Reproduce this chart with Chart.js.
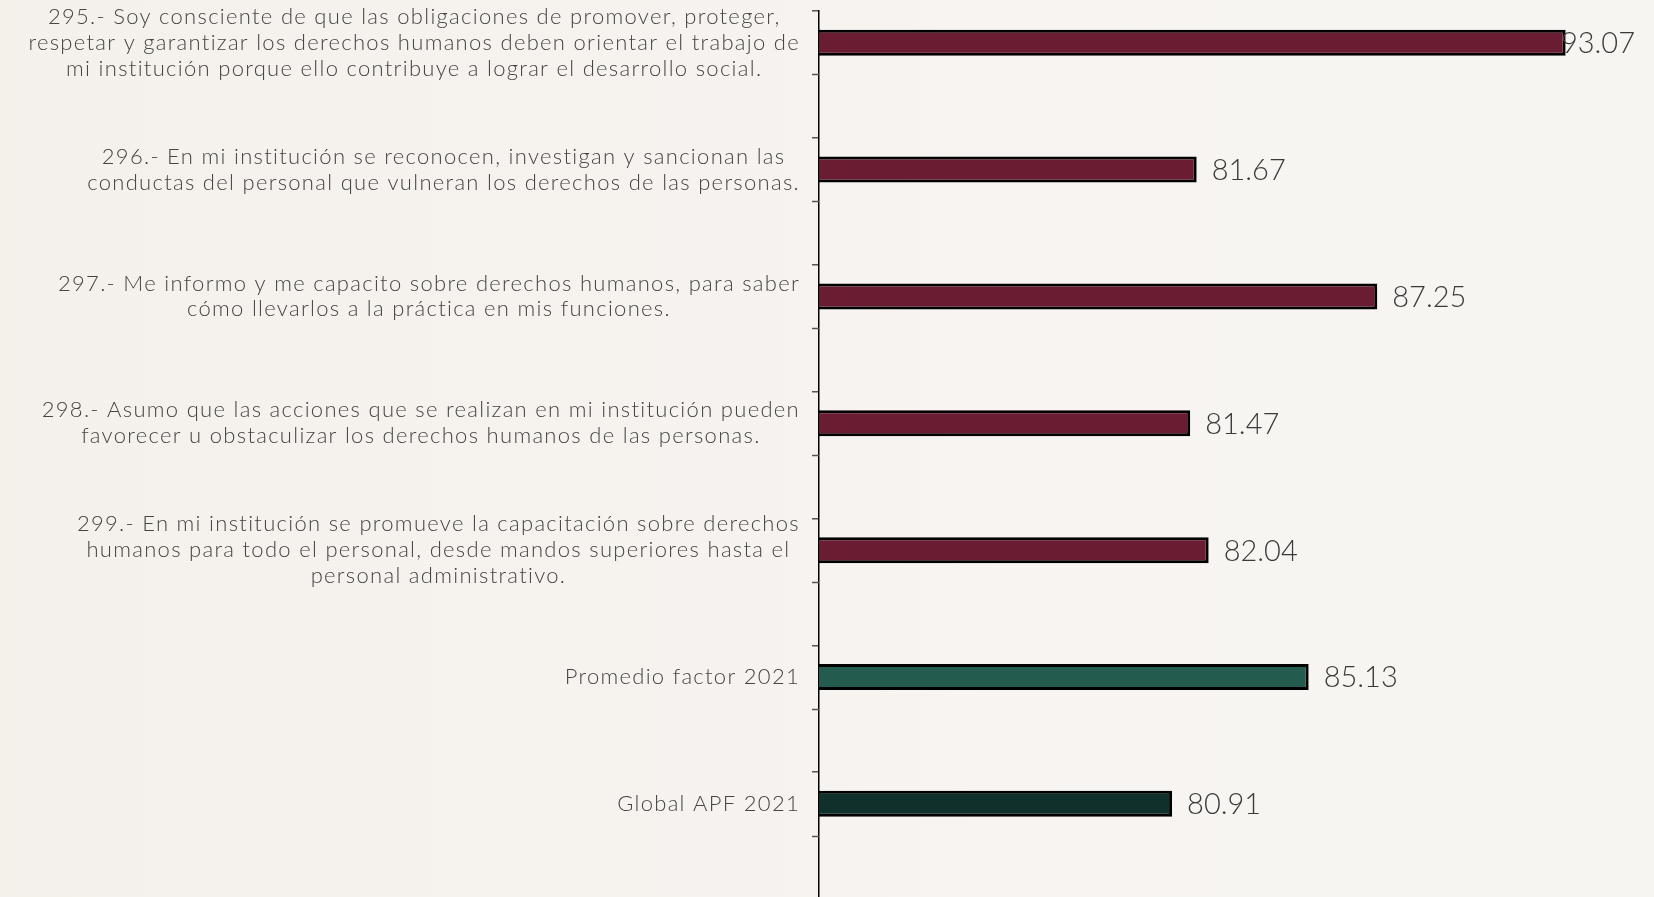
<!DOCTYPE html>
<html>
<head>
<meta charset="utf-8">
<script src="https://cdn.jsdelivr.net/npm/chart.js@4.4.1/dist/chart.umd.min.js"></script>
<style>
  html, body { margin: 0; padding: 0; overflow: hidden; }
  body {
    width: 1654px; height: 897px;
    background: linear-gradient(90deg, #f4f0ea 0%, #f6f2ee 35%, #f7f4f1 60%, #f7f5f2 100%);
  }
  #wrap { position: absolute; left: 0; top: 0; width: 1654px; height: 910px; }
</style>
</head>
<body>
<div id="wrap"><canvas id="mycanvas"></canvas></div>
<script>
// categories (label lines), values and bar colours
var categories = [
	["295.- Soy consciente de que las obligaciones de promover, proteger,",
	 "respetar y garantizar los derechos humanos deben orientar el trabajo de",
	 "mi institución porque ello contribuye a lograr el desarrollo social."],
	["296.- En mi institución se reconocen, investigan y sancionan las",
	 "conductas del personal que vulneran los derechos de las personas."],
	["297.- Me informo y me capacito sobre derechos humanos, para saber",
	 "cómo llevarlos a la práctica en mis funciones."],
	["298.- Asumo que las acciones que se realizan en mi institución pueden",
	 "favorecer u obstaculizar los derechos humanos de las personas."],
	["299.- En mi institución se promueve la capacitación sobre derechos",
	 "humanos para todo el personal, desde mandos superiores hasta el",
	 "personal administrativo."],
	["Promedio factor 2021"],
	["Global APF 2021"]
];
var values = [93.07, 81.67, 87.25, 81.47, 82.04, 85.13, 80.91];
var emptySeries = [null, null, null, null, null, null, null];
var barColors = ["#6a1c32", "#6a1c32", "#6a1c32", "#6a1c32", "#6a1c32", "#235b4e", "#10312b"];

var labelFont = "300 22px Lato";
var valueFont = "300 29px Lato";

// left labels: block right aligned next to axis, lines centred in block
var labelPlugin = {
	id: "sideLabels",
	afterDraw: function(chart) {
		var ctx = chart.ctx;
		var meta = chart.getDatasetMeta(0);
		var right = chart.chartArea.left - 19;
		ctx.save();
		ctx.font = labelFont;
		ctx.letterSpacing = "1.3px";
		ctx.fillStyle = "#454545";
		ctx.textBaseline = "middle";
		ctx.textAlign = "center";
		var lh = 25.8;
		for (var i = 0; i < categories.length; i++) {
			var lines = categories[i];
			var w = 0;
			for (var k = 0; k < lines.length; k++) {
				w = Math.max(w, ctx.measureText(lines[k]).width);
			}
			var cx = right - w / 2;
			var y0 = meta.data[i].y - (lines.length - 1) * lh / 2;
			for (var k = 0; k < lines.length; k++) {
				ctx.fillText(lines[k], cx, y0 + k * lh);
			}
		}
		// half-step ticks at category centres
		var ys = chart.scales.y;
		ctx.strokeStyle = "#555555";
		ctx.lineWidth = 1.5;
		for (var i = 0; i < categories.length; i++) {
			var py = Math.round(ys.getPixelForValue(i)) + 0.5;
			ctx.beginPath();
			ctx.moveTo(chart.chartArea.left - 7, py);
			ctx.lineTo(chart.chartArea.left, py);
			ctx.stroke();
		}
		ctx.restore();
	}
};

// value labels at the end of each bar
var valuePlugin = {
	id: "barValues",
	afterDatasetsDraw: function(chart) {
		var ctx = chart.ctx;
		var meta = chart.getDatasetMeta(0);
		ctx.save();
		ctx.font = valueFont;
		ctx.fillStyle = "#3a3a3a";
		ctx.textBaseline = "middle";
		ctx.textAlign = "left";
		for (var i = 0; i < meta.data.length; i++) {
			var bar = meta.data[i];
			var txt = values[i].toFixed(2);
			var w = ctx.measureText(txt).width;
			var x = bar.x + 15;
			if (x + w > chart.width - 19) x = chart.width - 19 - w;
			ctx.fillText(txt, x, bar.y + 1);
		}
		ctx.restore();
	}
};

var chartdata = {
	labels: categories,
	datasets: [
		{
			label: "2021",
			data: values,
			backgroundColor: barColors,
			borderColor: "#000000",
			borderWidth: 3,
			borderSkipped: "start",
			barPercentage: 0.41,
			categoryPercentage: 1
		},
		{
			label: "",
			data: emptySeries,
			barPercentage: 0.41,
			categoryPercentage: 1
		}
	]
};

var ctx = document.getElementById("mycanvas");

var BarGraph = new Chart(ctx, {
	type: "bar",
	data: chartdata,
	options: {
		indexAxis: "y",
		responsive: true,
		maintainAspectRatio: false,
		animation: false,
		layout: { padding: { left: 812, top: 11, right: 0, bottom: 11 } },
		plugins: {
			legend: { display: false },
			tooltip: { enabled: false }
		},
		scales: {
			x: {
				display: false,
				min: 70,
				max: 95.8
			},
			y: {
				display: true,
				offset: true,
				ticks: { display: false },
				grid: {
					display: true,
					drawOnChartArea: false,
					drawTicks: true,
					tickLength: 7,
					offset: true,
					color: "#555555",
					lineWidth: 1.5
				},
				border: { display: true, color: "#000000", width: 1.5 }
			}
		}
	},
	plugins: [labelPlugin, valuePlugin]
});
</script>
</body>
</html>
